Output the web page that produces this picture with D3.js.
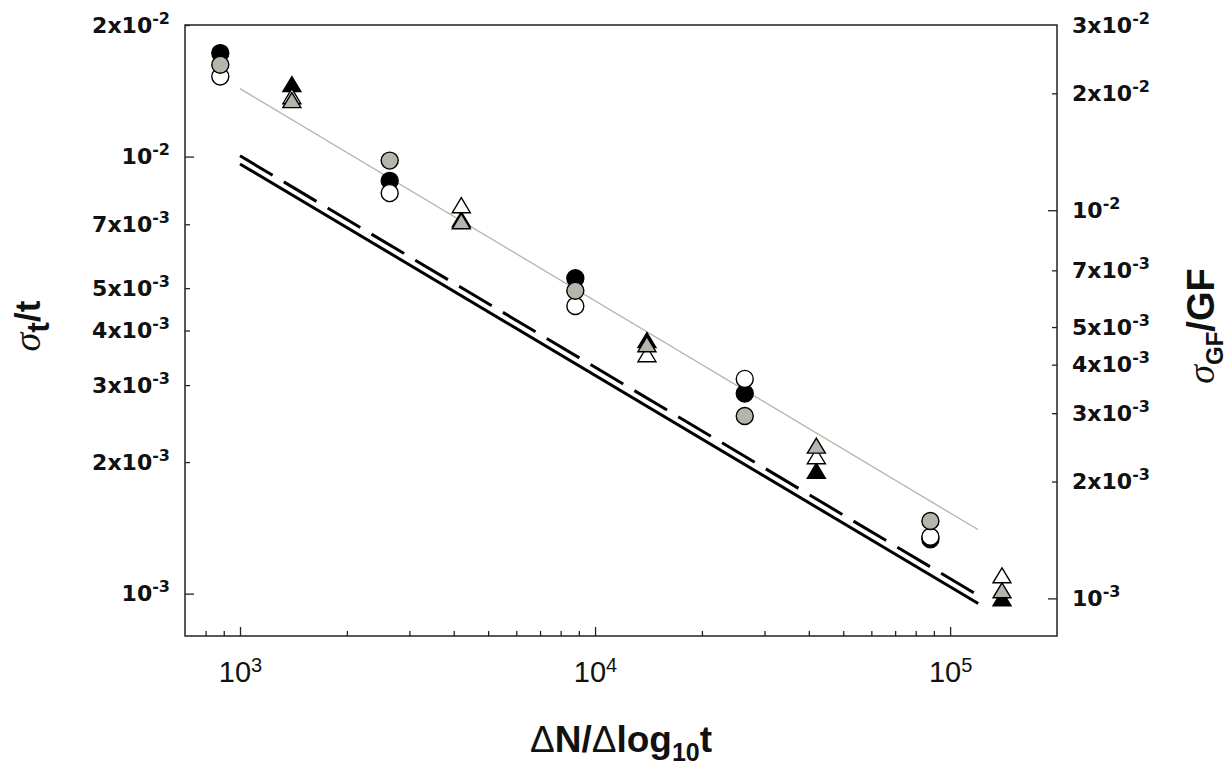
<!DOCTYPE html>
<html>
<head>
<meta charset="utf-8">
<script src="https://cdn.jsdelivr.net/npm/d3@7"></script>
<style>
  body { margin: 0; background: #fff; }
</style>
</head>
<body>
<svg></svg>
<script>
let width = 1228, height = 765;

// circles are read against the left axis (sigma_t / t)
let circleX = [880, 2640, 8800, 26400, 88000];
let circleBlack = [1.725e-2, 8.80e-3, 5.27e-3, 2.87e-3, 1.331e-3];
let circleWhite = [1.525e-2, 8.25e-3, 4.55e-3, 3.10e-3, 1.349e-3];
let circleGray = [1.622e-2, 9.79e-3, 4.93e-3, 2.55e-3, 1.466e-3];

// triangles are read against the right axis (sigma_GF / GF)
let triangleX = [1400, 4200, 14000, 42000, 140000];
let triangleBlack = [2.10e-2, 9.42e-3, 4.60e-3, 2.12e-3, 9.94e-4];
let triangleWhite = [1.955e-2, 1.024e-2, 4.23e-3, 2.31e-3, 1.14e-3];
let triangleGray = [1.91e-2, 9.31e-3, 4.49e-3, 2.46e-3, 1.043e-3];

// lines (left axis)
let fitLine = [[1000, 1.43e-2], [120000, 1.40e-3]];
let solidLine = [[1000, 9.62e-3], [120000, 9.49e-4]];
let dashedLine = [[1000, 1.004e-2], [120000, 9.91e-4]];

let xMajor = [1e3, 1e4, 1e5];
let xMinor = [800, 900, 2000, 3000, 4000, 5000, 6000, 7000, 8000, 9000,
    20000, 30000, 40000, 50000, 60000, 70000, 80000, 90000];
let leftTicks = [2e-2, 1e-2, 7e-3, 5e-3, 4e-3, 3e-3, 2e-3, 1e-3];
let rightTicks = [3e-2, 2e-2, 1e-2, 7e-3, 5e-3, 4e-3, 3e-3, 2e-3, 1e-3];

let mLeft = 185, mRight = 1057, mTop = 25, mBottom = 636;

let svg = d3.select("svg")
    .attr("width", width)
    .attr("height", height)
    .attr("viewBox", "0 0 " + width + " " + height);

let x = d3.scaleLog().domain([700, 2e5]).range([mLeft, mRight]);
let yL = d3.scaleLog().domain([8e-4, 2e-2]).range([mBottom, mTop]);
let yR = d3.scaleLog().domain([8e-4, 3e-2]).range([mBottom, mTop]);

let isDecade = v => Math.abs(Math.log10(v) - Math.round(Math.log10(v))) < 1e-9;

// write "mx10^e" into a tick label with a superscript exponent
function sciLabel(sel, supSize, supShift) {
    sel.each(function (v) {
        let t = d3.select(this).text("");
        let e = Math.floor(Math.log10(v) + 1e-9);
        let m = Math.round(v / Math.pow(10, e));
        t.append("tspan").text((m === 1 ? "" : m + "x") + "10");
        t.append("tspan").attr("dy", -supShift).style("font-size", supSize + "px").text(e);
    });
}

// x axis
let xAxis = svg.append("g")
    .attr("transform", "translate(0," + mBottom + ")")
    .call(d3.axisBottom(x).tickValues(xMajor.concat(xMinor)).tickSize(-5).tickPadding(25));
xAxis.select(".domain").remove();
xAxis.selectAll(".tick line")
    .attr("y2", d => isDecade(d) ? -9 : -5)
    .attr("stroke", "#222").attr("stroke-width", 1.3);
xAxis.selectAll(".tick text")
    .filter(d => !isDecade(d)).remove();
xAxis.selectAll(".tick text")
    .style("font-family", "'Liberation Sans', Arial, sans-serif")
    .style("font-size", "29px")
    .attr("fill", "#111")
    .call(sciLabel, 20, 10);

// left axis
let lAxis = svg.append("g")
    .attr("transform", "translate(" + mLeft + ",0)")
    .call(d3.axisLeft(yL).tickValues(leftTicks).tickSize(-5).tickPadding(15));
lAxis.select(".domain").remove();
lAxis.selectAll(".tick line")
    .attr("x2", d => isDecade(d) ? 9 : 5)
    .attr("stroke", "#222").attr("stroke-width", 1.3);
lAxis.selectAll(".tick text")
    .style("font-family", "'DejaVu Sans', sans-serif")
    .style("font-weight", "bold")
    .style("font-size", "22px")
    .attr("fill", "#111")
    .call(sciLabel, 16, 9);

// right axis
let rAxis = svg.append("g")
    .attr("transform", "translate(" + mRight + ",0)")
    .call(d3.axisRight(yR).tickValues(rightTicks).tickSize(-5).tickPadding(15));
rAxis.select(".domain").remove();
rAxis.selectAll(".tick line")
    .attr("x2", d => d >= 3e-2 ? 0 : (isDecade(d) ? -9 : -5))
    .attr("stroke", "#222").attr("stroke-width", 1.3);
rAxis.selectAll(".tick text")
    .style("font-family", "'DejaVu Sans', sans-serif")
    .style("font-weight", "bold")
    .style("font-size", "22px")
    .attr("fill", "#111")
    .call(sciLabel, 16, 9);

// frame
svg.append("rect")
    .attr("x", mLeft).attr("y", mTop)
    .attr("width", mRight - mLeft).attr("height", mBottom - mTop)
    .attr("fill", "none").attr("stroke", "#222").attr("stroke-width", 1.5);

// lines
let line = d3.line().x(d => x(d[0])).y(d => yL(d[1]));
svg.append("path").datum(fitLine)
    .attr("d", line).attr("fill", "none")
    .attr("stroke", "#b4b4a8").attr("stroke-width", 1.3);
svg.append("path").datum(solidLine)
    .attr("d", line).attr("fill", "none")
    .attr("stroke", "#000").attr("stroke-width", 3);
svg.append("path").datum(dashedLine)
    .attr("d", line).attr("fill", "none")
    .attr("stroke", "#000").attr("stroke-width", 3)
    .attr("stroke-dasharray", "38,13");

// markers
let gray = "#b5b5ab";
let circleSeries = [
    { vals: circleBlack, fill: "#000" },
    { vals: circleWhite, fill: "#fff" },
    { vals: circleGray, fill: gray }
];
circleSeries.forEach(s => {
    svg.append("g").selectAll("circle")
        .data(circleX.map((v, i) => [v, s.vals[i]]))
        .enter()
        .append("circle")
        .attr("cx", d => x(d[0]))
        .attr("cy", d => yL(d[1]))
        .attr("r", 8.5)
        .attr("fill", s.fill)
        .attr("stroke", "#000")
        .attr("stroke-width", 1.4);
});

let triPath = "M0,-8.5L9,6.5L-9,6.5Z";
let triangleSeries = [
    { vals: triangleBlack, fill: "#000" },
    { vals: triangleWhite, fill: "#fff" },
    { vals: triangleGray, fill: gray }
];
triangleSeries.forEach(s => {
    svg.append("g").selectAll("path")
        .data(triangleX.map((v, i) => [v, s.vals[i]]))
        .enter()
        .append("path")
        .attr("d", triPath)
        .attr("transform", d => "translate(" + x(d[0]) + "," + yR(d[1]) + ")")
        .attr("fill", s.fill)
        .attr("stroke", "#000")
        .attr("stroke-width", 1.4);
});

// axis titles
let xTitle = svg.append("text")
    .attr("x", (mLeft + mRight) / 2)
    .attr("y", 752)
    .attr("text-anchor", "middle")
    .style("font-family", "'Liberation Sans', Arial, sans-serif")
    .style("font-weight", "bold")
    .style("font-size", "37px")
    .attr("fill", "#111");
xTitle.append("tspan").style("font-weight", "normal").text("\u0394");
xTitle.append("tspan").text("N/");
xTitle.append("tspan").style("font-weight", "normal").text("\u0394");
xTitle.append("tspan").text("log");
xTitle.append("tspan").attr("dy", 9).style("font-size", "25px").text("10");
xTitle.append("tspan").attr("dy", -9).text("t");

let lTitle = svg.append("text")
    .attr("transform", "translate(40,326) rotate(-90)")
    .attr("text-anchor", "middle")
    .style("font-family", "'Liberation Sans', Arial, sans-serif")
    .style("font-weight", "bold")
    .attr("fill", "#111");
lTitle.append("tspan")
    .style("font-family", "'Liberation Serif', serif")
    .style("font-style", "italic").style("font-weight", "normal")
    .style("font-size", "38px").text("\u03c3");
lTitle.append("tspan").attr("dy", 9).style("font-size", "32px").text("t");
lTitle.append("tspan").attr("dy", -9).style("font-size", "35px").text("/t");

let rTitle = svg.append("text")
    .attr("transform", "translate(1214,326) rotate(-90)")
    .attr("text-anchor", "middle")
    .style("font-family", "'Liberation Sans', Arial, sans-serif")
    .style("font-weight", "bold")
    .attr("fill", "#111");
rTitle.append("tspan")
    .style("font-family", "'Liberation Serif', serif")
    .style("font-style", "italic").style("font-weight", "normal")
    .style("font-size", "38px").text("\u03c3");
rTitle.append("tspan").attr("dy", 9).style("font-size", "24px").text("GF");
rTitle.append("tspan").attr("dy", -9).style("font-size", "38px").text("/GF");
</script>
</body>
</html>
